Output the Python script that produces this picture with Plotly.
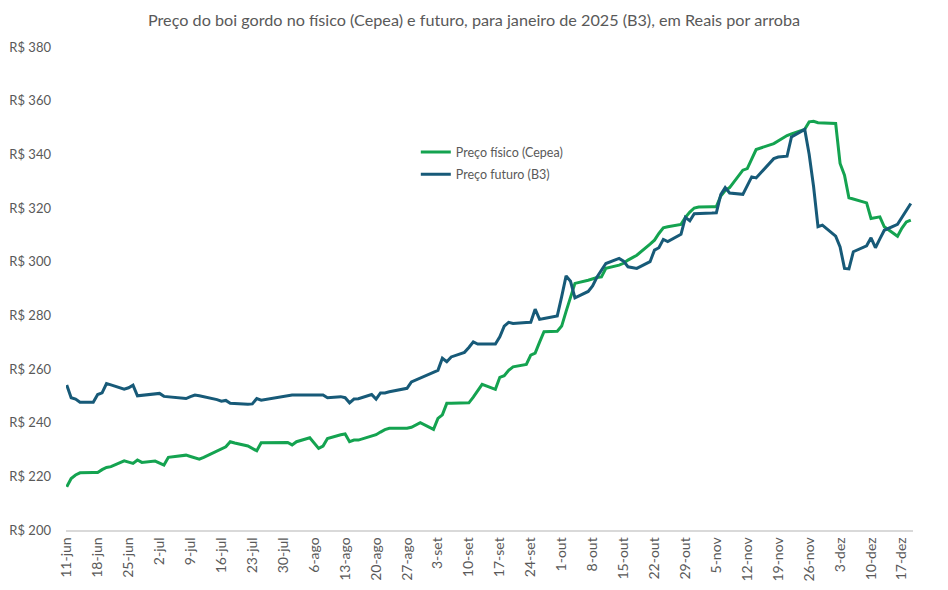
import pandas as pd
import plotly.graph_objects as go

# dias úteis de 11-jun a 19-dez de 2024 (sem 15-nov e 20-nov)
feriados = ['2024-11-15', '2024-11-20']
datas = pd.bdate_range('2024-06-11', '2024-12-19')
datas = datas[~datas.isin(pd.to_datetime(feriados))]

## Preço físico (Cepea), R$/@
fisico = [
    216.1, 219.2, 220.5, 221.3,
    221.4, 221.4, 222.5, 223.3, 223.6,
    225.8, 225.3, 224.8, 226.1, 225.2,
    225.7, 225.0, 224.2, 227.1, 227.3,
    227.9, 227.4, 226.9, 226.4, 227.1,
    229.5, 230.3, 231.0, 232.9, 232.4,
    231.3, 230.5, 229.5, 232.5, 232.5,
    232.5, 232.6, 232.6, 231.7, 232.9,
    234.4, 232.4, 230.4, 231.3, 234.1,
    235.5, 235.8, 232.9, 233.5, 233.5,
    234.8, 235.5, 236.5, 237.4, 237.9,
    237.9, 237.9, 238.3, 239.2, 240.0,
    237.5, 241.6, 242.9, 247.2, 247.2,
    247.3, 247.4, 249.5, 252.0, 254.3,
    252.4, 256.9, 257.5, 259.5, 260.8,
    261.7, 265.2, 265.9, 270.0, 273.9,
    274.1, 276.0, 281.5, 287.0, 291.9,
    293.1, 293.6, 294.1, 294.3, 297.5,
    298.7, 299.4, 300.6, 301.5, 302.4,
    306.5, 308.0, 310.5, 312.6, 313.0,
    313.9, 316.5, 318.5, 320.0, 320.4,
    320.5, 320.5, 324.5, 326.5, 327.6,
    334.1, 334.7, 338.0, 341.8,
    344.0, 345.0, 347.0, 347.6,
    349.3, 352.1, 352.3, 351.8, 351.7,
    351.5, 336.6, 332.2, 323.8, 323.3,
    321.9, 316.1, 316.4, 316.7, 313.0,
    309.5, 312.5, 314.8, 315.5,
]

## Preço futuro jan/25 (B3), R$/@
futuro = [
    254.0, 249.3, 248.8, 247.6,
    247.6, 250.5, 251.1, 254.6, 254.1,
    252.5, 253.0, 254.0, 250.0, 250.2,
    250.8, 250.9, 249.8, 249.6, 249.5,
    249.0, 249.7, 250.3, 250.0, 249.7,
    248.6, 248.0, 248.3, 247.2, 247.1,
    246.9, 247.0, 249.0, 248.4, 248.7,
    249.5, 249.8, 250.1, 250.3, 250.3,
    250.3, 250.3, 250.3, 250.3, 249.3,
    249.7, 249.3, 247.4, 248.8, 248.9,
    250.5, 248.8, 251.1, 251.1, 251.5,
    252.4, 252.8, 255.2, 255.9, 256.6,
    258.6, 259.5, 264.0, 262.7, 264.5,
    266.2, 268.0, 270.1, 269.3, 269.3,
    269.3, 272.0, 276.0, 277.4, 277.0,
    277.3, 277.4, 282.3, 278.5, 278.8,
    279.8, 287.0, 294.7, 292.7, 286.5,
    288.9, 291.0, 294.3, 297.0, 299.3,
    301.2, 300.2, 298.1, 297.8, 297.5,
    300.0, 304.3, 305.2, 308.3, 307.5,
    310.2, 316.5, 315.2, 317.9, 317.9,
    318.1, 318.2, 325.0, 327.6, 325.6,
    325.1, 328.5, 331.6, 331.2,
    338.4, 339.0, 339.3, 346.5,
    349.3, 340.0, 328.0, 313.0, 313.6,
    309.5, 305.5, 297.5, 297.3, 303.7,
    305.9, 308.9, 305.2, 308.5, 311.7,
    313.9, 316.5, 319.0, 321.7,
]

tick_datas = pd.date_range('2024-06-11', '2024-12-17', freq='7D')
tick_textos = ['11-jun', '18-jun', '25-jun', '2-jul', '9-jul', '16-jul', '23-jul',
               '30-jul', '6-ago', '13-ago', '20-ago', '27-ago', '3-set', '10-set',
               '17-set', '24-set', '1-out', '8-out', '15-out', '22-out', '29-out',
               '5-nov', '12-nov', '19-nov', '26-nov', '3-dez', '10-dez', '17-dez']

y_vals = list(range(200, 381, 20))
y_textos = ['R$ %d' % v for v in y_vals]

cinza = '#595959'
fonte = 'Lato, Open Sans, sans-serif'

fig = go.Figure()
fig.add_trace(go.Scatter(x=datas, y=fisico, mode='lines', name='Preço físico (Cepea)',
                         legendgroup='a', line=dict(color='#14a350', width=3)))
fig.add_trace(go.Scatter(x=datas, y=futuro, mode='lines', name='Preço futuro (B3)',
                         legendgroup='b', line=dict(color='#175a78', width=3)))

fig.update_layout(
    width=948, height=590,
    paper_bgcolor='white', plot_bgcolor='white',
    font=dict(family=fonte, color=cinza, size=13),
    title=dict(text='Preço do boi gordo no físico (Cepea) e futuro, para janeiro de 2025 (B3), em Reais por arroba',
               x=466 / 948, xref='container', xanchor='center',
               y=1 - 12 / 590, yref='container', yanchor='middle',
               font=dict(size=16.2, color=cinza, family=fonte)),
    margin=dict(l=58, r=43, t=39, b=68),
    legend=dict(x=0.413, y=0.813, xanchor='left', yanchor='top',
                bgcolor='rgba(0,0,0,0)', font=dict(size=12.5, color=cinza),
                tracegroupgap=3, itemwidth=30),
    showlegend=True,
)
fig.update_xaxes(
    range=['2024-06-10 20:00', '2024-12-19 12:00'],
    tickvals=tick_datas, ticktext=tick_textos, tickangle=-90,
    showgrid=False, zeroline=False, automargin=False,
    showline=True, linecolor='#d9d9d9', linewidth=1.5,
    ticks='', tickfont=dict(size=14, color=cinza),
)
fig.update_yaxes(
    range=[200, 380], tickvals=y_vals, ticktext=y_textos,
    showgrid=False, zeroline=False, showline=False, ticks='', automargin=False,
    ticklabelstandoff=14, tickfont=dict(size=13, color=cinza),
)

fig.write_html('out.html')
